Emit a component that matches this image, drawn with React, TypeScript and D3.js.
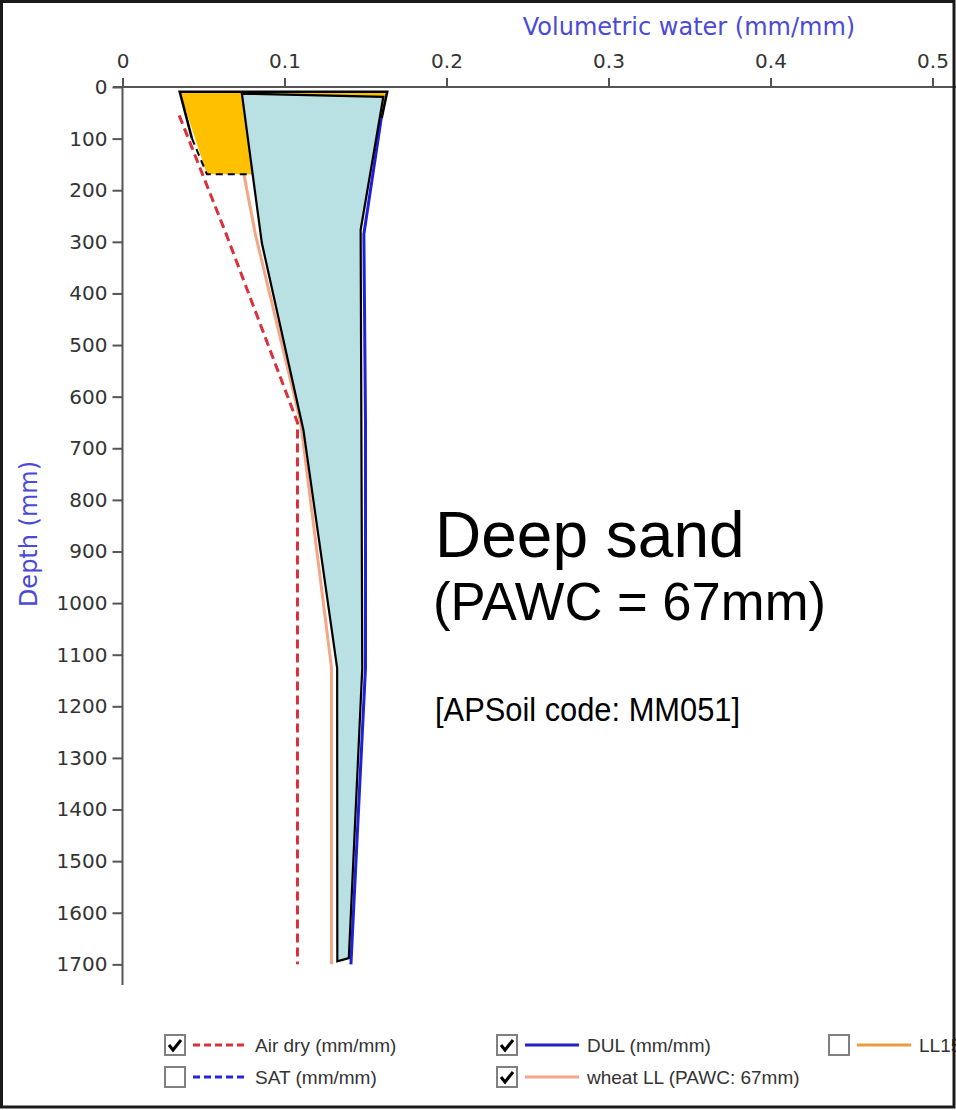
import React, { useEffect, useRef } from 'react';
import * as d3 from 'd3';

// soil profile
const depths = [55, 285, 650, 1125, 1700];
const airDry = [0.035, 0.064, 0.108, 0.108, 0.108];
const dul = [0.16, 0.149, 0.15, 0.15, 0.141];
const wheatLL = [0.068, 0.082, 0.11, 0.129, 0.129];

// overlay shapes drawn on top of the chart, as [water, depth]
const pawcShape = [
  [0.0737, 13], [0.161, 19], [0.147, 277], [0.148, 1126], [0.1397, 1688],
  [0.1326, 1694], [0.1325, 1126], [0.1117, 665], [0.086, 302],
];
const topShape = [[0.0353, 9], [0.1634, 9], [0.16, 60], [0.08, 169], [0.0521, 169]];
const topSolidEdge = [[0.0428, 99], [0.0353, 9], [0.1634, 9], [0.16, 60]];
const topDashedEdge = [[0.0428, 99], [0.0521, 169], [0.08, 169]];

const xTicks = [0, 0.1, 0.2, 0.3, 0.4, 0.5];
const depthTicks = [0, 100, 200, 300, 400, 500, 600, 700, 800, 900, 1000, 1100, 1200, 1300, 1400, 1500, 1600, 1700];

const legendLabels = ['Air dry (mm/mm)', 'SAT (mm/mm)', 'DUL (mm/mm)', 'wheat LL (PAWC: 67mm)', 'LL15'];
const legendChecked = [true, false, true, true, false];

const W = 956;
const H = 1110;

export default function App() {
  const xAxisRef = useRef<SVGGElement>(null);
  const yAxisRef = useRef<SVGGElement>(null);

  const x = d3.scaleLinear().domain([0, 0.5]).range([122.5, 932.5]);
  const y = d3.scaleLinear().domain([0, 1740]).range([87, 985]);

  const profileLine = (vals: number[]) =>
    d3.line<number>().x((d) => x(d)).y((_, i) => y(depths[i]))(vals) || '';
  const shapeLine = d3.line<number[]>().x((d) => x(d[0])).y((d) => y(d[1]));

  useEffect(() => {
    const axisFont = (g: any) => {
      g.select('.domain').remove();
      g.selectAll('.tick line').attr('stroke', '#555').attr('stroke-width', 2);
      g.selectAll('.tick text')
        .attr('fill', '#333')
        .style('font-family', '"DejaVu Sans", sans-serif')
        .style('font-size', '20px');
    };
    d3.select(xAxisRef.current!)
      .call(d3.axisTop(x).tickValues(xTicks).tickSize(9).tickPadding(10).tickFormat((d) => String(d)))
      .call(axisFont);
    d3.select(yAxisRef.current!)
      .call(d3.axisLeft(y).tickValues(depthTicks).tickSize(10).tickPadding(5).tickFormat((d) => String(d)))
      .call(axisFont);
  }, []);

  const legendCols = [165, 497, 829];
  const legendRows = [1035, 1067];
  const legendPos = [
    [0, 0], [0, 1], [1, 0], [1, 1], [2, 0],
  ];
  const legendStyle = [
    { color: '#d9303a', dash: '7,4' },
    { color: '#2424e0', dash: '7,4' },
    { color: '#2020c8', dash: null },
    { color: '#f4a685', dash: null },
    { color: '#eb9a3c', dash: null },
  ];

  return (
    <svg
      width={W}
      height={H}
      style={{ position: 'absolute', left: 0, top: 0, background: '#fff' }}
    >
      <rect x={0} y={0} width={W} height={H} fill="#fff" />

      {/* profile lines */}
      <path d={profileLine(airDry)} fill="none" stroke="#d9303a" strokeWidth={3} strokeDasharray="9,5" />
      <path d={profileLine(wheatLL)} fill="none" stroke="#f4a685" strokeWidth={3} />
      <path d={profileLine(dul)} fill="none" stroke="#2020d8" strokeWidth={3} />

      {/* top orange block */}
      <path d={shapeLine(topShape) + 'Z'} fill="#ffc000" stroke="none" />
      <path d={shapeLine(topSolidEdge) || ''} fill="none" stroke="#000" strokeWidth={2.5} />
      <path d={shapeLine(topDashedEdge) || ''} fill="none" stroke="#000" strokeWidth={2} strokeDasharray="7,5" />

      {/* PAWC overlay */}
      <path d={shapeLine(pawcShape) + 'Z'} fill="#b9e0e3" stroke="#000" strokeWidth={2.2} strokeLinejoin="miter" />

      {/* axes */}
      <line x1={113} x2={W} y1={y(0)} y2={y(0)} stroke="#555" strokeWidth={2} />
      <line x1={x(0)} x2={x(0)} y1={y(0)} y2={985} stroke="#555" strokeWidth={2} />
      <g ref={xAxisRef} transform={`translate(0,${y(0)})`} />
      <g ref={yAxisRef} transform={`translate(${x(0)},0)`} />

      <text
        x={689}
        y={35}
        textAnchor="middle"
        fill="#4a4ad8"
        style={{ fontFamily: '"DejaVu Sans", sans-serif', fontSize: 24 }}
      >
        Volumetric water (mm/mm)
      </text>
      <text
        transform="translate(37,534) rotate(-90)"
        textAnchor="middle"
        fill="#4a4ad8"
        style={{ fontFamily: '"DejaVu Sans", sans-serif', fontSize: 24 }}
      >
        Depth (mm)
      </text>

      {/* annotations */}
      <g fill="#000" style={{ fontFamily: '"Liberation Sans", Arial, sans-serif' }}>
        <text x={435} y={557} style={{ fontSize: 64 }}>Deep sand</text>
        <text x={433} y={620} style={{ fontSize: 54 }} textLength={393} lengthAdjust="spacingAndGlyphs">
          (PAWC = 67mm)
        </text>
        <text x={435} y={721} style={{ fontSize: 33 }} textLength={305} lengthAdjust="spacingAndGlyphs">
          [APSoil code: MM051]
        </text>
      </g>

      {/* legend */}
      {legendLabels.map((label, i) => {
        const [c, r] = legendPos[i];
        const bx = legendCols[c];
        const by = legendRows[r];
        const st = legendStyle[i];
        return (
          <g key={label}>
            <rect x={bx} y={by} width={20} height={20} fill="#fff" stroke="#808080" strokeWidth={2} />
            {legendChecked[i] && (
              <path
                d={`M${bx + 4},${by + 10} L${bx + 8},${by + 15} L${bx + 16},${by + 5}`}
                fill="none"
                stroke="#000"
                strokeWidth={3}
              />
            )}
            <line
              x1={bx + 28}
              x2={bx + 82}
              y1={by + 10}
              y2={by + 10}
              stroke={st.color}
              strokeWidth={3}
              strokeDasharray={st.dash || undefined}
            />
            <text
              x={bx + 90}
              y={by + 17}
              fill="#333"
              style={{ fontFamily: '"Liberation Sans", Arial, sans-serif', fontSize: 19 }}
            >
              {label}
            </text>
          </g>
        );
      })}

      {/* frame */}
      <rect x={1.5} y={1.5} width={952.5} height={1105.5} fill="none" stroke="#1a1a1a" strokeWidth={3} />
    </svg>
  );
}
